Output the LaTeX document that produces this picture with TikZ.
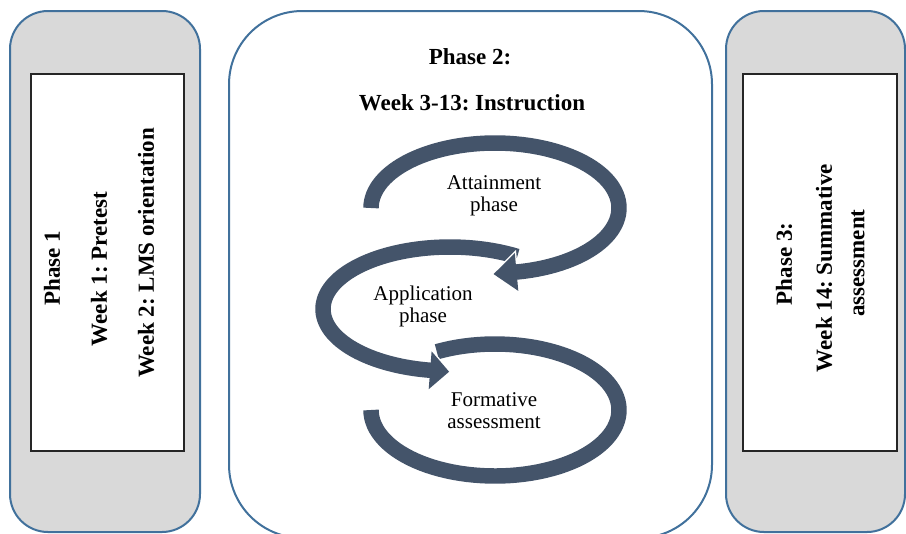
\documentclass[tikz,border=0pt]{standalone}
\usepackage{fontspec}
\setmainfont{Liberation Serif}
\usetikzlibrary{calc}
\definecolor{panelblue}{HTML}{41719C}
\definecolor{panelgray}{HTML}{D9D9D9}
\definecolor{arrowslate}{HTML}{44546A}
\frenchspacing

\begin{document}
\begin{tikzpicture}[x=0.75pt,y=-0.75pt,
  sidepanel/.style={draw=panelblue, fill=panelgray, line width=1.5pt, rounded corners=28.5pt},
  midpanel/.style={draw=panelblue, fill=white, line width=1.5pt, rounded corners=55pt},
  innerbox/.style={draw=black!85, fill=white, line width=0.9pt},
  boldtext/.style={font=\fontsize{17.25}{20}\selectfont\bfseries, inner sep=0pt},
  vtext/.style={boldtext, rotate=90},
  looplabel/.style={font=\fontsize{15.75}{16.5}\selectfont, align=center, inner sep=0pt},
  band/.style={draw=arrowslate, line width=11.6pt, line cap=butt},
  bandgap/.style={draw=white, line width=14.8pt, line cap=butt},
  headfill/.style={fill=arrowslate},
  headgap/.style={fill=white, draw=white, line width=2.2pt, line join=miter}
]
\useasboundingbox (0,0) rectangle (906,533);
\clip (0,0) rectangle (906,533);

% ---- three phase panels ----
\draw[sidepanel] (10,11) rectangle (200,532);
\draw[midpanel] (229,11) rectangle (712,538);
\draw[sidepanel] (726,11) rectangle (905,532);

\draw[innerbox] (31,74) rectangle (184,451);
\draw[innerbox] (743,74) rectangle (897,451);

% ---- phase 1 text ----
\node[vtext] (p1a) at (52,268) {Phase 1};
\node[vtext] (p1b) at (99,269) {Week 1: Pretest};
\node[vtext] (p1c) at (146,253) {Week 2: LMS orientation};

% ---- phase 3 text ----
\node[vtext] (p3a) at (784,264) {Phase 3:};
\node[vtext] (p3b) at (824,268) {Week 14: Summative};
\node[vtext] (p3c) at (858,263) {assessment};

% ---- phase 2 heading ----
\node[boldtext] (p2a) at (470,57) {Phase 2:};
\node[boldtext] (p2b) at (472,103) {Week 3-13: Instruction};

% ---- arrowhead geometry ----
\coordinate (h1tip) at (493.6,274.1);
\coordinate (h1up)  at (514.8,253.1);
\coordinate (h1low) at (518.3,290.9);
\coordinate (h2tip) at (449.1,371.7);
\coordinate (h2up)  at (431.6,351.3);
\coordinate (h2low) at (428.7,389.2);

% ---- loop 3: formative assessment (no head) ----
\draw[bandgap] plot[domain=-118:180, samples=90] ({495+124*cos(\x)}, {410+66*sin(\x)});
\draw[band] plot[domain=-118:180, samples=90] ({495+124*cos(\x)}, {410+66*sin(\x)});

% ---- loop 2: application phase ----
\draw[bandgap] plot[domain=-262:-58, samples=80] ({450+127*cos(\x)}, {309+62*sin(\x)});
\path[headgap] (h2up) -- (h2tip) -- (h2low) -- cycle;
\draw[band] plot[domain=-262:-58, samples=80] ({450+127*cos(\x)}, {309+62*sin(\x)});
\path[headfill] (h2up) -- (h2tip) -- (h2low) -- cycle;

% ---- loop 1: attainment phase ----
\draw[bandgap] plot[domain=180:442, samples=90] ({495+124*cos(\x)}, {208+65*sin(\x)});
\path[headgap] (h1up) -- (h1tip) -- (h1low) -- cycle;
\draw[band] plot[domain=180:442, samples=90] ({495+124*cos(\x)}, {208+65*sin(\x)});
\path[headfill] (h1up) -- (h1tip) -- (h1low) -- cycle;

% ---- loop labels ----
\node[looplabel] (att) at (494,196) {Attainment\\phase};
\node[looplabel] (app) at (423,306) {Application\\phase};
\node[looplabel] (frm) at (494,411) {Formative\\assessment};
\end{tikzpicture}
\end{document}
